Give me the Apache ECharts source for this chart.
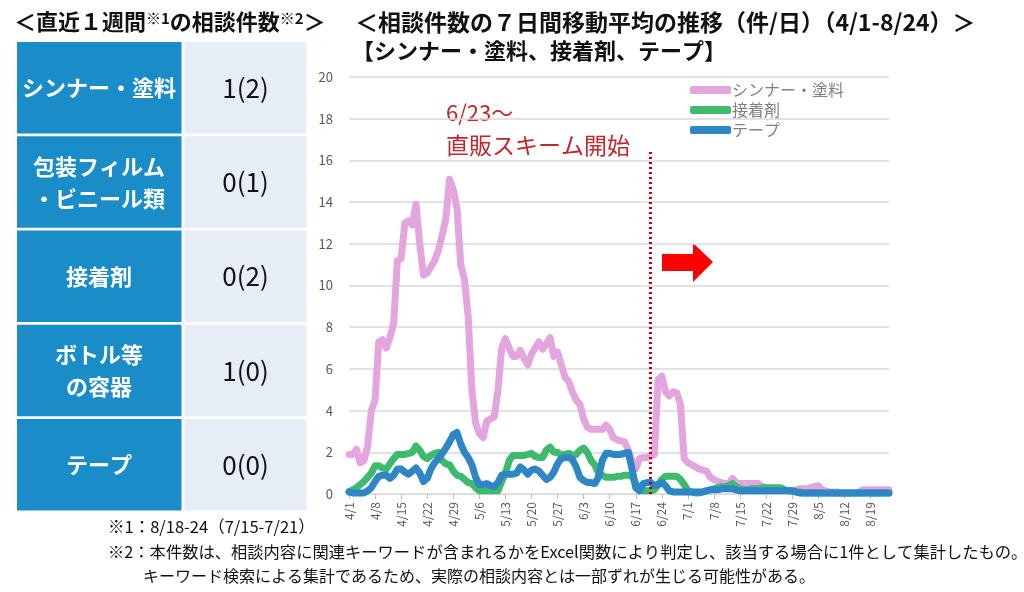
<!DOCTYPE html>
<html>
<head>
    <meta charset="utf-8">
    <title>相談件数の推移</title>
    <script src="https://cdn.jsdelivr.net/npm/echarts@6/dist/echarts.min.js"></script>
    <style>
        html, body { margin: 0; padding: 0; background: #fff; }
    </style>
</head>
<body>
<div id="main" style="width: 1024px;height:592px;"></div>
<script type="text/javascript">
    // 日付（4/1〜8/24）
    var months = [4, 5, 6, 7, 8];
    var monthDays = [30, 31, 30, 31, 24];
    var dates = [];
    months.forEach(function (m, i) {
        for (var d = 1; d <= monthDays[i]; d++) dates.push(m + '/' + d);
    });

    // 7日間移動平均（件/日）
    var thinner = [
        1.9, 1.9, 2.15, 1.5, 1.6, 2.3, 4.0, 4.5, 7.3, 7.4,
        7.0, 7.5, 8.2, 11.2, 11.3, 13.0, 13.1, 12.9, 13.9, 12.0,
        10.5, 10.6, 10.9, 11.2, 11.7, 12.4, 13.2, 15.1, 14.6, 13.7,
        11.0, 10.3, 8.5, 5.0, 3.4, 2.9, 2.7, 3.5, 3.6, 3.7,
        5.0, 7.0, 7.45, 7.0, 6.6, 6.6, 6.9, 6.5, 6.2, 6.7,
        7.0, 7.3, 6.95, 7.2, 7.5, 6.6, 6.8, 6.2, 5.6, 5.4,
        4.9, 4.5, 4.3, 3.6, 3.2, 3.1, 3.1, 3.1, 3.1, 3.3,
        3.1, 2.7, 2.6, 2.55, 2.5, 2.1, 1.6, 1.2, 1.7, 1.75,
        1.75, 1.8, 1.9, 5.5, 5.65, 4.9, 4.7, 4.9, 4.85, 4.3,
        1.7, 1.5, 1.4, 1.3, 1.2, 1.15, 1.1, 0.8, 0.7, 0.6,
        0.55, 0.5, 0.5, 0.75, 0.55, 0.5, 0.5, 0.5, 0.5, 0.5,
        0.5, 0.35, 0.3, 0.25, 0.25, 0.2, 0.2, 0.2, 0.15, 0.15,
        0.2, 0.25, 0.25, 0.25, 0.3, 0.35, 0.4, 0.2, 0.15, 0.1,
        0.1, 0.1, 0.05, 0.05, 0.05, 0.05, 0.05, 0.1, 0.2, 0.2,
        0.2, 0.2, 0.2, 0.2, 0.2, 0.2
    ];
    var adhesive = [
        0.1, 0.2, 0.3, 0.45, 0.6, 0.8, 1.0, 1.35, 1.35, 1.25,
        1.2, 1.45, 1.7, 1.9, 1.9, 1.9, 1.95, 2.0, 2.3, 2.1,
        1.8, 1.7, 1.85, 1.95, 2.0, 1.6, 1.45, 1.4, 1.1, 0.9,
        0.85, 0.7, 0.55, 0.5, 0.3, 0.15, 0.15, 0.15, 0.15, 0.15,
        0.15, 0.6, 1.0, 1.6, 1.85, 1.85, 1.85, 1.85, 1.9, 1.95,
        1.8, 1.75, 1.75, 2.1, 2.25, 2.0, 2.0, 1.85, 1.9, 1.95,
        1.85, 1.9, 2.1, 2.2, 2.0, 1.6, 1.4, 1.0, 0.9, 0.8,
        0.8, 0.8, 0.85, 0.85, 0.9, 0.9, 0.85, 0.5, 0.2, 0.15,
        0.15, 0.15, 0.2, 0.45, 0.7, 0.85, 0.85, 0.85, 0.85, 0.7,
        0.45, 0.15, 0.1, 0.05, 0.05, 0.1, 0.15, 0.2, 0.25, 0.3,
        0.35, 0.35, 0.4, 0.5, 0.35, 0.25, 0.2, 0.2, 0.25, 0.25,
        0.25, 0.3, 0.3, 0.3, 0.3, 0.3, 0.3, 0.2, 0.15, 0.15,
        0.1, 0.1, 0.05, 0.05, 0.05, 0.05, 0.05, 0.05, 0.05, 0.05,
        0.05, 0.05, 0.05, 0.05, 0.05, 0.05, 0.05, 0.05, 0.05, 0.05,
        0.05, 0.05, 0.05, 0.05, 0.05, 0.05
    ];
    var tape = [
        0.1, 0.05, 0.05, 0.05, 0.05, 0.15, 0.3, 0.6, 0.85, 0.9,
        0.9, 0.75, 0.9, 1.2, 1.2, 1.05, 0.95, 1.1, 1.25, 1.0,
        0.6, 0.75, 1.2, 1.5, 1.7, 1.95, 2.2, 2.5, 2.85, 2.95,
        2.4, 2.0, 1.75, 1.4, 0.8, 0.45, 0.45, 0.5, 0.4, 0.35,
        0.55, 0.9, 0.95, 0.95, 0.95, 1.0, 1.3, 1.15, 0.95, 1.15,
        1.2, 1.1, 0.9, 0.7, 0.8, 1.05, 1.45, 1.7, 1.75, 1.75,
        1.65, 1.3, 0.8, 0.65, 0.55, 0.55, 0.5, 0.8, 1.6, 1.95,
        1.95, 1.9, 1.9, 1.9, 1.95, 2.0, 1.2, 0.3, 0.15, 0.5,
        0.55, 0.55, 0.4, 0.45, 0.55, 0.4, 0.15, 0.1, 0.1, 0.1,
        0.1, 0.1, 0.1, 0.1, 0.1, 0.1, 0.15, 0.2, 0.2, 0.2,
        0.25, 0.25, 0.25, 0.25, 0.2, 0.15, 0.15, 0.15, 0.15, 0.15,
        0.15, 0.15, 0.15, 0.15, 0.15, 0.15, 0.15, 0.15, 0.15, 0.15,
        0.1, 0.05, 0.05, 0.05, 0.05, 0.05, 0.05, 0.05, 0.05, 0.05,
        0.05, 0.05, 0.05, 0.05, 0.05, 0.05, 0.05, 0.05, 0.05, 0.05,
        0.05, 0.05, 0.05, 0.05, 0.05, 0.05
    ];
    var seriesNames = ['シンナー・塗料', '接着剤', 'テープ'];
    var seriesColors = ['#e4a5df', '#3dba6e', '#2f86c6'];

    // 直販スキーム開始の縦線
    var schemeDate = '6/21';
    var schemeTop = 16.4;

    // 直近１週間の相談件数
    var tableItems = ['シンナー・塗料', '包装フィルム\n・ビニール類', '接着剤', 'ボトル等\nの容器', 'テープ'];
    var tableCounts = ['1(2)', '0(1)', '0(2)', '1(0)', '0(0)'];

    var FONT = "'Noto Sans CJK JP', 'Noto Sans', sans-serif";

    var myChart = echarts.init(document.getElementById('main'));

    var graphics = [];
    // 左の表
    tableItems.forEach(function (name, i) {
        var top = 42 + i * 94.25;
        graphics.push({
            type: 'rect', shape: {x: 17, y: top, width: 164.5, height: 91.5},
            style: {fill: '#1a8dc8'}
        });
        graphics.push({
            type: 'rect', shape: {x: 184.5, y: top, width: 122, height: 91.5},
            style: {fill: '#e6edf6'}
        });
        graphics.push({
            type: 'text', x: 99, y: top + 46,
            style: {
                text: name, fill: '#fff', fontSize: 22, fontWeight: 'bold', fontFamily: FONT,
                textAlign: 'center', textVerticalAlign: 'middle', lineHeight: 32
            }
        });
        graphics.push({
            type: 'text', x: 245.5, y: top + 46,
            style: {
                text: tableCounts[i], fill: '#111', fontSize: 26, fontFamily: FONT,
                textAlign: 'center', textVerticalAlign: 'middle'
            }
        });
    });
    // 見出し
    graphics.push({
        type: 'text', x: 14, y: 22,
        style: {
            text: '＜直近１週間{s|※1}の相談件数{s|※2}＞',
            fill: '#111', fontSize: 22, fontWeight: 'bold', fontFamily: FONT,
            textVerticalAlign: 'middle',
            rich: {s: {fontSize: 15, fontWeight: 'bold', fontFamily: FONT, fill: '#111', verticalAlign: 'top'}}
        }
    });
    graphics.push({
        type: 'text', x: 355, y: 22,
        style: {
            text: '＜相談件数の７日間移動平均の推移（件/日）（4/1-8/24）＞',
            fill: '#111', fontSize: 23, fontWeight: 'bold', fontFamily: FONT, textVerticalAlign: 'middle'
        }
    });
    graphics.push({
        type: 'text', x: 352, y: 51,
        style: {
            text: '【シンナー・塗料、接着剤、テープ】',
            fill: '#111', fontSize: 22, fontWeight: 'bold', fontFamily: FONT, textVerticalAlign: 'middle'
        }
    });
    // 注記
    graphics.push({
        type: 'text', x: 446, y: 113,
        style: {text: '6/23～', fill: '#c3262b', fontSize: 22, fontFamily: FONT, textVerticalAlign: 'middle'}
    });
    graphics.push({
        type: 'text', x: 446, y: 145,
        style: {text: '直販スキーム開始', fill: '#c3262b', fontSize: 23, fontFamily: FONT, textVerticalAlign: 'middle'}
    });
    // 赤い矢印
    graphics.push({
        type: 'polygon',
        shape: {points: [[662, 254], [693, 254], [693, 243], [713, 262], [693, 282], [693, 271], [662, 271]]},
        style: {fill: '#ff0000'}
    });
    // 脚注
    graphics.push({
        type: 'text', x: 108, y: 527,
        style: {text: '※1：8/18-24（7/15-7/21）', fill: '#111', fontSize: 16.5, fontFamily: FONT, textVerticalAlign: 'middle'}
    });
    graphics.push({
        type: 'text', x: 108, y: 552,
        style: {
            text: '※2：本件数は、相談内容に関連キーワードが含まれるかをExcel関数により判定し、該当する場合に1件として集計したもの。',
            fill: '#111', fontSize: 16.3, fontFamily: FONT, textVerticalAlign: 'middle'
        }
    });
    graphics.push({
        type: 'text', x: 143, y: 576,
        style: {
            text: 'キーワード検索による集計であるため、実際の相談内容とは一部ずれが生じる可能性がある。',
            fill: '#111', fontSize: 16, fontFamily: FONT, textVerticalAlign: 'middle'
        }
    });

    var seriesData = [thinner, adhesive, tape];

    option = {
        backgroundColor: '#fff',
        animation: false,
        textStyle: {fontFamily: FONT},
        color: seriesColors,
        grid: {left: 349, right: 135, top: 77, bottom: 98},
        legend: {
            orient: 'vertical',
            left: 685,
            top: 77,
            itemWidth: 41,
            itemHeight: 8,
            itemGap: 4,
            icon: 'roundRect',
            textStyle: {color: '#808080', fontSize: 16, padding: [0, 0, 0, -4]},
            data: seriesNames
        },
        xAxis: {
            type: 'category',
            data: dates,
            boundaryGap: false,
            axisLine: {lineStyle: {color: '#d9d9d9', width: 1}},
            axisTick: {show: true, interval: 6, length: 5, lineStyle: {color: '#bfbfbf'}},
            axisLabel: {interval: 6, rotate: 90, color: '#595959', fontSize: 12, margin: 8}
        },
        yAxis: {
            type: 'value',
            min: 0,
            max: 20,
            interval: 2,
            axisLine: {show: false},
            axisTick: {show: false},
            axisLabel: {color: '#595959', fontSize: 13, margin: 16},
            splitLine: {lineStyle: {color: '#d9d9d9', width: 1.5}}
        },
        series: seriesNames.map(function (name, i) {
            var s = {
                name: name,
                type: 'line',
                data: seriesData[i],
                showSymbol: false,
                symbol: 'none',
                lineStyle: {width: 7, color: seriesColors[i], cap: 'round', join: 'round'},
                z: 2 + i
            };
            if (i === 0) {
                s.markLine = {
                    silent: true,
                    symbol: 'none',
                    label: {show: false},
                    lineStyle: {color: '#c00000', type: [2, 3], width: 3},
                    data: [[{coord: [schemeDate, schemeTop]}, {coord: [schemeDate, 0]}]],
                    z: 10
                };
            }
            return s;
        }),
        graphic: graphics
    };

    myChart.setOption(option);
</script>
</body>
</html>
